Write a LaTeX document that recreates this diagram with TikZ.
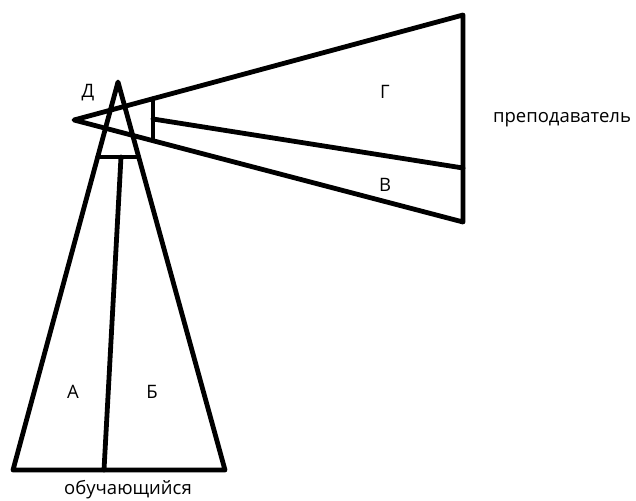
\documentclass[tikz,border=0pt]{standalone}
\usepackage{fontspec}
\setmainfont{Open Sans}
\begin{document}
\begin{tikzpicture}[x=1pt,y=-1pt,
  thick line/.style={line width=4.8pt,line join=round,line cap=round,draw=black},
  lbl/.style={font=\fontsize{18.5}{22}\selectfont,inner sep=0pt}]
\useasboundingbox (0,0) rectangle (636,500);
% vertical triangle (student)
\coordinate (apex) at (118,82);
\coordinate (bl) at (13,470);
\coordinate (br) at (225,470);
\coordinate (bm) at (104,470);
\coordinate (tl) at (97.7,157);
\coordinate (tr) at (138.7,157);
\coordinate (tm) at (121,157);
\draw[thick line] (apex) -- (bl) -- (br) -- cycle;
\draw[thick line] (tl) -- (tr);
\draw[thick line] (tm) -- (bm);
% horizontal triangle (teacher)
\coordinate (lapex) at (74,120);
\coordinate (rt) at (463,15);
\coordinate (rb) at (463,222);
\coordinate (rm) at (463,168);
\coordinate (it) at (153,98.7);
\coordinate (ib) at (153,140.7);
\coordinate (im) at (153,119);
\draw[thick line] (lapex) -- (rt) -- (rb) -- cycle;
\draw[thick line] (it) -- (ib);
\draw[thick line] (im) -- (rm);
% labels
\node[lbl] (d) at (88,93) {Д};
\node[lbl] (g) at (385,92) {Г};
\node[lbl] (v) at (385,185) {В};
\node[lbl] (a) at (73,392) {А};
\node[lbl] (b) at (152,392) {Б};
\node[lbl] (t) at (562,120) {преподаватель};
\node[lbl] (s) at (128,490) {обучающийся};
\end{tikzpicture}
\end{document}
